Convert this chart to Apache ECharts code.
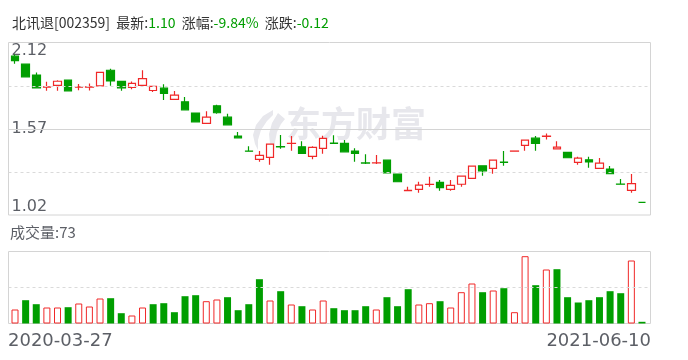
<!DOCTYPE html>
<html><head><meta charset="utf-8">
<script src="https://cdn.jsdelivr.net/npm/echarts@6/dist/echarts.min.js"></script>
<style>html,body{margin:0;padding:0;background:#fff}#c{width:688px;height:360px}</style>
</head><body><div id="c"></div>
<script>
// ---- data ----
const stockName = '北讯退';
const stockCode = '002359';
const latestText = '1.10';
const pctText = '-9.84%';
const changeText = '-0.12';
const volumeTitle = '成交量:73';

const dates = [
 '2020-03-27','2020-04-03','2020-04-10','2020-04-17','2020-04-24','2020-04-30','2020-05-08','2020-05-15','2020-05-22','2020-05-29',
 '2020-06-05','2020-06-12','2020-06-19','2020-06-24','2020-07-03','2020-07-10','2020-07-17','2020-07-24','2020-07-31','2020-08-07',
 '2020-08-14','2020-08-21','2020-08-28','2020-09-04','2020-09-11','2020-09-18','2020-09-25','2020-09-30','2020-10-23','2020-10-30',
 '2020-11-06','2020-11-13','2020-11-20','2020-11-27','2020-12-04','2020-12-11','2020-12-18','2020-12-25','2020-12-31','2021-01-08',
 '2021-01-15','2021-01-22','2021-01-29','2021-02-05','2021-02-10','2021-02-26','2021-03-05','2021-03-12','2021-03-19','2021-03-26',
 '2021-04-02','2021-04-09','2021-04-16','2021-04-23','2021-04-30','2021-05-14','2021-05-21','2021-05-28','2021-06-04','2021-06-10'
];
const opens = [
 2.033,1.982,1.912,1.836,1.846,1.880,1.836,1.836,1.844,1.943,
 1.872,1.833,1.846,1.814,1.829,1.757,1.742,1.670,1.604,1.716,
 1.644,1.523,1.428,1.375,1.387,1.456,1.476,1.455,1.394,1.445,
 1.478,1.477,1.428,1.352,1.352,1.370,1.281,1.176,1.184,1.215,
 1.228,1.184,1.216,1.254,1.334,1.317,1.357,1.427,1.464,1.510,
 1.522,1.442,1.419,1.356,1.372,1.317,1.313,1.217,1.177,1.10
];
const closes = [
 2.005,1.901,1.831,1.837,1.873,1.812,1.837,1.837,1.929,1.875,
 1.831,1.859,1.890,1.840,1.795,1.784,1.691,1.614,1.644,1.672,
 1.595,1.512,1.427,1.400,1.472,1.455,1.477,1.413,1.451,1.509,
 1.477,1.423,1.413,1.351,1.353,1.289,1.232,1.177,1.211,1.216,
 1.194,1.209,1.268,1.332,1.302,1.370,1.356,1.428,1.498,1.477,
 1.523,1.453,1.385,1.383,1.358,1.351,1.283,1.216,1.220,1.10
];
const lows = [
 1.984,1.901,1.831,1.812,1.812,1.812,1.816,1.814,1.844,1.844,
 1.812,1.822,1.846,1.805,1.754,1.757,1.691,1.614,1.604,1.665,
 1.595,1.512,1.427,1.359,1.340,1.442,1.430,1.413,1.375,1.410,
 1.477,1.423,1.359,1.345,1.345,1.289,1.232,1.176,1.162,1.200,
 1.175,1.175,1.200,1.254,1.270,1.283,1.334,1.427,1.430,1.430,
 1.502,1.442,1.385,1.340,1.321,1.317,1.283,1.216,1.162,1.10
];
const highs = [
 2.043,1.982,1.929,1.869,1.880,1.880,1.856,1.859,1.929,1.952,
 1.872,1.872,1.943,1.840,1.854,1.810,1.772,1.670,1.682,1.723,
 1.665,1.549,1.459,1.428,1.472,1.530,1.523,1.491,1.459,1.525,
 1.528,1.498,1.445,1.408,1.402,1.370,1.281,1.200,1.232,1.264,
 1.243,1.243,1.268,1.332,1.334,1.370,1.428,1.428,1.498,1.523,
 1.540,1.491,1.419,1.391,1.391,1.383,1.332,1.249,1.281,1.10
];
const volumes = [
 602,1002,830,688,688,701,860,731,1075,1088,
 443,344,688,830,873,486,1174,1217,959,1032,
 1131,572,830,1905,989,1389,817,744,602,989,
 658,572,572,744,602,1131,744,1475,817,873,
 959,688,1346,1720,1346,1419,1518,486,2894,1647,
 2322,2335,1131,903,1002,1131,1389,1303,2709,73
];
const priceTicks = [1.02, 1.57, 2.12];
const priceGridSolid = [1.57];
const priceGridDashed = [1.295, 1.845];
const priceMin = 1.02, priceMax = 2.12;
const volMax = 3096;
const volGridDashed = [1548];

// ---- styles ----
const RED = '#f02828', GREEN = '#009e00';
const BORDER = '#d4d4d4', DASH = '#dadada';
const LABEL = '#5c5f66';
const WM = '#e7e7ec';
const DL = 9.69, DW = 637.6; // data plot horizontal extent

const chart = echarts.init(document.getElementById('c'), null, {renderer: 'canvas'});

const candleData = opens.map((o, i) => [o, closes[i], lows[i], highs[i]]);
const volData = volumes.map((v, i) => {
  const up = i === 0 ? true : closes[i] >= closes[i - 1];
  return {value: v, itemStyle: up ? {color: '#ffffff', borderColor: RED, borderWidth: 1} : {color: GREEN, borderWidth: 0}};
});

function gridLines(solid, dashed) {
  return solid.map(v => ({yAxis: v, lineStyle: {type: 'solid', color: BORDER, width: 1}}))
    .concat(dashed.map(v => ({yAxis: v, lineStyle: {type: [3, 3], color: DASH, width: 1}})));
}

const option = {
  animation: false,
  title: {
    left: 7, top: 11,
    text: stockName + '[' + stockCode + ']  最新:{g|' + latestText + '}  涨幅:{g|' + pctText + '}  涨跌:{g|' + changeText + '}',
    textStyle: {
      fontFamily: 'Noto Sans CJK SC', fontSize: 14, fontWeight: 'normal', color: '#333',
      rich: {g: {color: GREEN, fontFamily: 'Noto Sans CJK SC', fontSize: 14}}
    }
  },
  graphic: [
    {type: 'polygon', z: 0, silent: true,
     shape: {points: [[273,110],[263,116],[256,125],[253,135],[255,144],[258,150],[258,140],[261,130],[267,121],[273,115]]},
     style: {fill: WM}},
    {type: 'polygon', z: 0, silent: true,
     shape: {points: [[278,113],[272,123],[269,134],[270,144],[274,152],[275,142],[277,132],[281,124],[285,119]]},
     style: {fill: WM}},
    {type: 'text', left: 286, top: 106, z: 0, silent: true,
     style: {text: '东方财富', font: 'bold 35px "Noto Sans CJK SC"', fill: WM}},
    {type: 'text', left: 10, top: 225, silent: true,
     style: {text: volumeTitle, font: '15px "Noto Sans CJK SC"', fill: LABEL}},
    {type: 'text', left: 8, top: 332, silent: true,
     style: {text: dates[0], font: '18px "DejaVu Sans"', fill: LABEL}},
    {type: 'text', right: 37, top: 332, silent: true,
     style: {text: dates[dates.length - 1], font: '18px "DejaVu Sans"', fill: LABEL}}
  ],
  grid: [
    {left: 8.5, top: 42.5, width: 642, height: 172.5, show: true, borderColor: BORDER, borderWidth: 1, backgroundColor: 'transparent'},
    {left: DL, top: 42.5, width: DW, height: 172.5},
    {left: 8.5, top: 251.5, width: 642, height: 72, show: true, borderColor: BORDER, borderWidth: 1, backgroundColor: 'transparent'},
    {left: DL, top: 251.5, width: DW, height: 72}
  ],
  xAxis: [
    {gridIndex: 0, type: 'value', min: 0, max: 1, show: false},
    {gridIndex: 1, type: 'category', data: dates, boundaryGap: true, show: false},
    {gridIndex: 2, type: 'value', min: 0, max: 1, show: false},
    {gridIndex: 3, type: 'category', data: dates, boundaryGap: true, show: false}
  ],
  yAxis: [
    {gridIndex: 0, type: 'value', min: priceMin, max: priceMax,
     splitLine: {show: false}, axisLine: {show: false}, axisTick: {show: false},
     axisLabel: {inside: true, margin: 3, customValues: priceTicks, formatter: v => v.toFixed(2),
       verticalAlignMinLabel: 'bottom', verticalAlignMaxLabel: 'top',
       fontFamily: 'DejaVu Sans', fontSize: 16, color: LABEL}},
    {gridIndex: 1, type: 'value', min: priceMin, max: priceMax, show: false},
    {gridIndex: 2, type: 'value', min: 0, max: volMax, show: false},
    {gridIndex: 3, type: 'value', min: 0, max: volMax, show: false}
  ],
  series: [
    {type: 'line', xAxisIndex: 0, yAxisIndex: 0, data: [[0, priceMin]], showSymbol: false, lineStyle: {opacity: 0}, silent: true,
     markLine: {silent: true, symbol: ['none', 'none'], label: {show: false}, animation: false, data: gridLines(priceGridSolid, priceGridDashed)}},
    {type: 'line', xAxisIndex: 2, yAxisIndex: 2, data: [[0, 0]], showSymbol: false, lineStyle: {opacity: 0}, silent: true,
     markLine: {silent: true, symbol: ['none', 'none'], label: {show: false}, animation: false, data: gridLines([], volGridDashed)}},
    {type: 'candlestick', xAxisIndex: 1, yAxisIndex: 1, data: candleData, barWidth: 8,
     itemStyle: {color: '#ffffff', color0: GREEN, borderColor: RED, borderColor0: GREEN, borderWidth: 1.2}},
    {type: 'bar', xAxisIndex: 3, yAxisIndex: 3, data: volData, barWidth: 7}
  ]
};
chart.setOption(option);
</script></body></html>
